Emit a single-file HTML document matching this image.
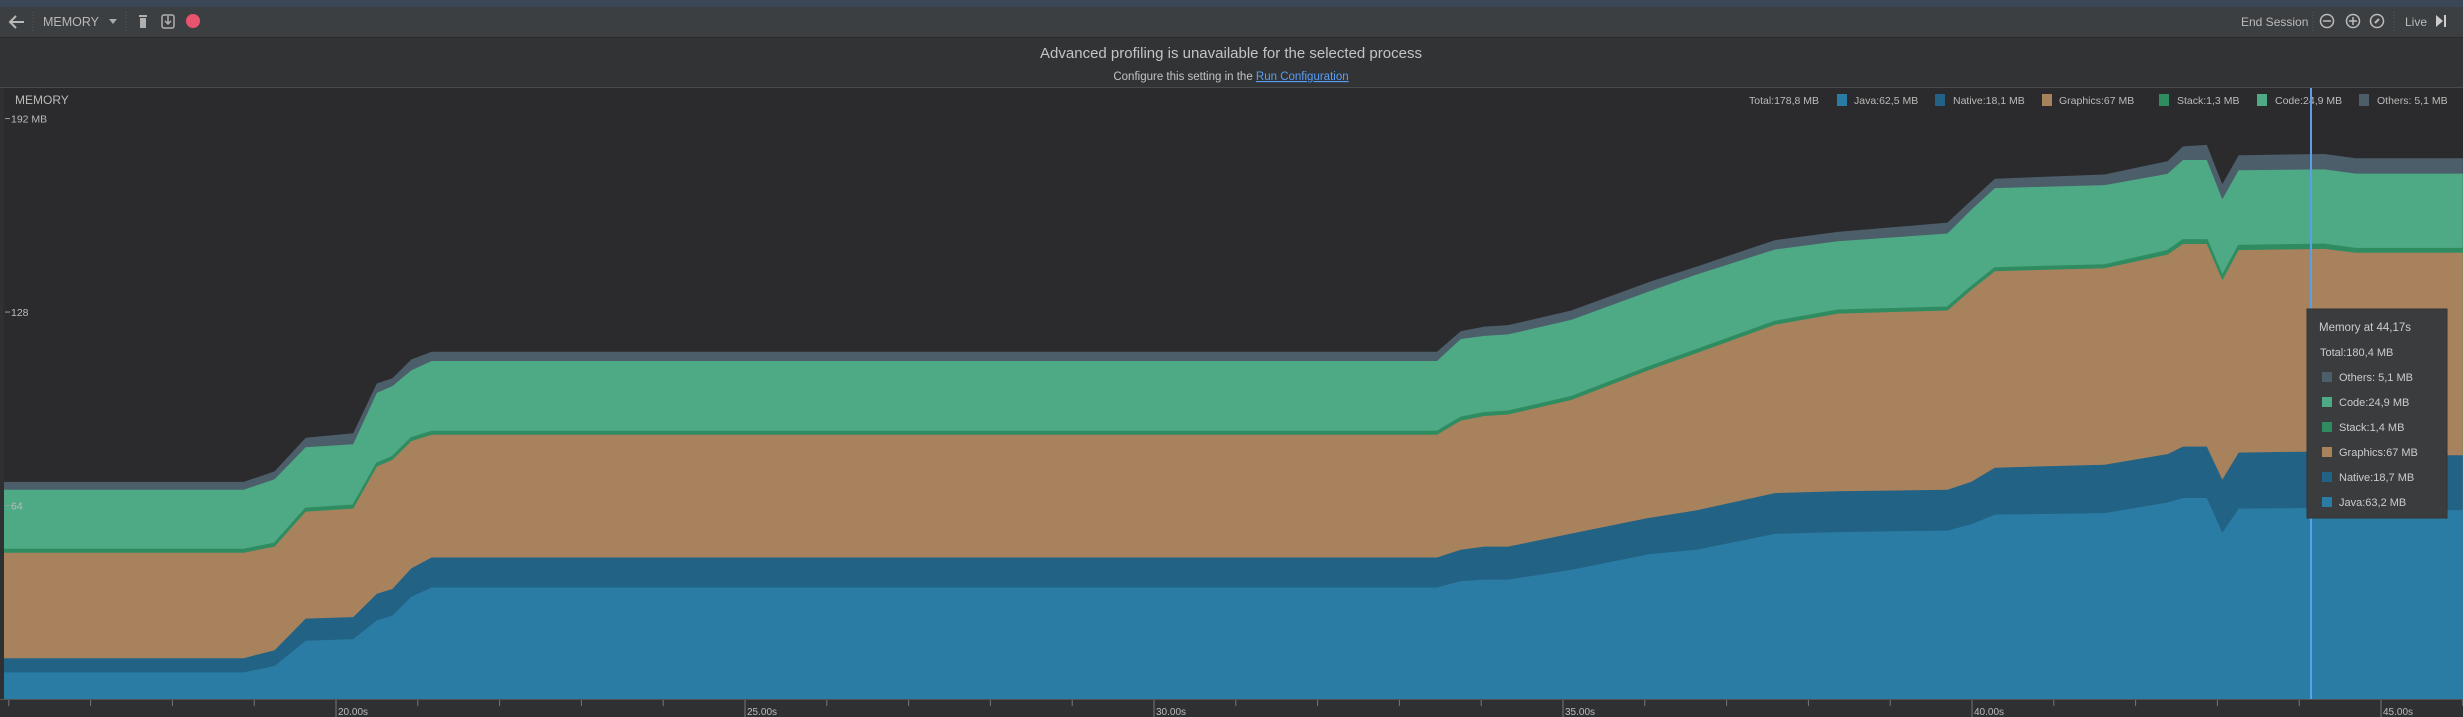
<!DOCTYPE html>
<html><head><meta charset="utf-8">
<style>
html,body{margin:0;padding:0;background:#2b2b2d;width:2463px;height:717px;overflow:hidden;font-family:"Liberation Sans",sans-serif;}
svg{display:block}
</style></head>
<body>
<svg id="root" width="2463" height="717" viewBox="0 0 2463 717" xmlns="http://www.w3.org/2000/svg">
  <rect x="0" y="0" width="2463" height="717" fill="#2b2b2d"/>
  <rect x="0" y="0" width="2463" height="7" fill="#3b4756"/>
  <rect x="0" y="7" width="2463" height="30" fill="#3c3f41"/>
  <line x1="0" y1="37.5" x2="2463" y2="37.5" stroke="#2a2a2a"/>
  <g><path d="M24 22 H10 M16 16 L10 22 L16 28" stroke="#b9b9b9" stroke-width="2" fill="none"/></g>
  <line x1="33" y1="12" x2="33" y2="33" stroke="#555" stroke-dasharray="1,2"/>
  <text x="43" y="26" fill="#b8b8b8" font-size="12.5">MEMORY</text>
  <path d="M109 19 L117 19 L113 24 Z" fill="#aaa"/>
  <line x1="126" y1="12" x2="126" y2="33" stroke="#555" stroke-dasharray="1,2"/>
  <g><rect x="139" y="15" width="8" height="2" fill="#b0b0b0"/><rect x="140" y="18" width="6" height="10" fill="#b0b0b0"/></g>
  <g><rect x="162" y="15" width="12" height="13" rx="2" fill="none" stroke="#b0b0b0" stroke-width="1.5"/><path d="M168 16 V24 M165 21 L168 24 L171 21" stroke="#b0b0b0" fill="none" stroke-width="1.5"/></g>
  <circle cx="193" cy="21" r="7" fill="#e8546e"/>
  <text x="2241" y="26" fill="#bbb" font-size="12">End Session</text>
  <line x1="2313" y1="12" x2="2313" y2="33" stroke="#555" stroke-dasharray="1,2"/>
  <g><circle cx="2327" cy="21" r="6.5" fill="none" stroke="#bbb" stroke-width="1.5"/><line x1="2323" y1="21" x2="2331" y2="21" stroke="#bbb" stroke-width="1.5"/></g>
  <g><circle cx="2353" cy="21" r="6.5" fill="none" stroke="#bbb" stroke-width="1.5"/><path d="M2349 21 H2357 M2353 17 V25" stroke="#bbb" stroke-width="1.5"/></g>
  <g><circle cx="2377" cy="21" r="6.5" fill="none" stroke="#bbb" stroke-width="1.5"/><line x1="2375" y1="23" x2="2379" y2="19" stroke="#bbb" stroke-width="2"/></g>
  <line x1="2394" y1="12" x2="2394" y2="33" stroke="#555" stroke-dasharray="1,2"/>
  <text x="2405" y="26" fill="#bbb" font-size="12">Live</text>
  <g><path d="M2436 15 L2443 21 L2436 27 Z" fill="#ccc"/><rect x="2444" y="15" width="2" height="12" fill="#ccc"/></g>
  <rect x="0" y="38" width="2463" height="49" fill="#313335"/>
  <text x="1231" y="58" text-anchor="middle" fill="#c4c4c4" font-size="15">Advanced profiling is unavailable for the selected process</text>
  <text x="1231" y="80" text-anchor="middle" fill="#c4c4c4" font-size="11.5">Configure this setting in the <tspan fill="#589df6" text-decoration="underline">Run Configuration</tspan></text>
  <line x1="0" y1="87.5" x2="2463" y2="87.5" stroke="#484a4c"/>
  <g id="chart"></g>
  <rect x="0" y="88" width="4" height="629" fill="#2f3032"/>
  <text x="15" y="104" fill="#bbb" font-size="12">MEMORY</text>
  <g id="yaxis"></g>
  <g id="xaxis"></g>
  <g id="legend"></g>
  <line x1="2311" y1="88" x2="2311" y2="699" stroke="#5a9fe8" stroke-width="2"/>
  <g id="tooltip"></g>
</svg>
<script>
const times    = [15.9, 18.87, 19.25, 19.63, 20.21, 20.5, 20.69, 20.92, 21.17, 33.46, 33.75, 34.04, 34.33, 35.1, 36.05, 36.63, 37.59, 38.36, 39.7, 39.99, 40.28, 41.62, 42.39, 42.58, 42.87, 43.06, 43.26, 44.31, 44.69, 46.0];
const java     = [8.8, 8.8, 10.9, 19.3, 19.8, 26.0, 27.6, 33.8, 36.9, 36.9, 39.0, 39.5, 39.5, 42.7, 47.9, 49.4, 54.6, 55.2, 55.7, 57.8, 61.0, 61.5, 65.0, 66.5, 66.5, 55.0, 63.0, 63.2, 62.5, 62.5];
const native   = [4.7, 4.7, 5.2, 7.3, 7.3, 8.8, 8.8, 9.4, 9.9, 9.9, 10.4, 10.9, 10.9, 12.0, 12.0, 13.0, 13.5, 13.5, 13.5, 14.0, 15.5, 16.0, 16.0, 17.0, 17.0, 17.5, 18.5, 18.7, 18.1, 18.1];
const graphics = [34.9, 34.9, 34.3, 35.4, 35.9, 42.1, 42.7, 42.1, 40.6, 40.6, 42.7, 43.2, 43.7, 44.2, 48.9, 52.0, 55.7, 58.8, 59.3, 63.5, 65.0, 65.0, 66.0, 67.0, 67.0, 66.0, 67.0, 67.0, 67.0, 67.0];
const stack    = [1.0, 1.0, 1.0, 1.0, 1.0, 1.0, 1.0, 1.0, 1.0, 1.0, 1.0, 1.0, 1.0, 1.0, 1.0, 1.0, 1.0, 1.0, 1.0, 1.0, 1.0, 1.0, 1.2, 1.3, 1.3, 1.3, 1.4, 1.4, 1.3, 1.3];
const code     = [19.8, 19.8, 21.3, 20.3, 20.3, 23.4, 23.4, 22.4, 23.4, 23.4, 26.0, 25.5, 25.5, 25.5, 25.0, 25.0, 23.9, 22.9, 24.5, 25.5, 26.5, 26.5, 25.5, 26.5, 26.5, 25.5, 25.0, 24.9, 24.9, 24.9];
const others   = [2.6, 2.6, 2.6, 3.1, 3.6, 3.1, 2.6, 3.6, 3.1, 3.1, 2.6, 3.1, 3.1, 3.1, 3.1, 2.6, 3.1, 3.1, 3.6, 3.1, 3.1, 3.5, 4.2, 4.5, 5.0, 5.0, 5.0, 5.1, 5.1, 5.1];
const yTicks = [64, 128, 192];
const yTickLabels = ["64", "128", "192 MB"];
const xTicks = [20, 25, 30, 35, 40, 45];
const xTickLabels = ["20.00s", "25.00s", "30.00s", "35.00s", "40.00s", "45.00s"];
const legendLabels = ["Total:178,8 MB", "Java:62,5 MB", "Native:18,1 MB", "Graphics:67 MB", "Stack:1,3 MB", "Code:24,9 MB", "Others: 5,1 MB"];
const tooltipLabels = ["Others: 5,1 MB", "Code:24,9 MB", "Stack:1,4 MB", "Graphics:67 MB", "Native:18,7 MB", "Java:63,2 MB"];

const NS = "http://www.w3.org/2000/svg";
function xS(t){ return 336 + (t - 20) * 81.8; }
function yS(v){ return 699 - v * 3.023; }
function mk(tag, attrs, parent){ const e = document.createElementNS(NS, tag); for (const k in attrs) e.setAttribute(k, attrs[k]); parent.appendChild(e); return e; }

const chart = document.getElementById('chart');
mk('rect', {x:0, y:88, width:2463, height:611, fill:'#2b2b2d'}, chart);
const series = [java, native, graphics, stack, code, others];
const colors = ['#2b7ca4', '#226285', '#a7825d', '#2f8c60', '#4ea985', '#4c5e6a'];
const names = ['java', 'native', 'graphics', 'stack', 'code', 'others'];
let base = times.map(() => 0);
const tops = [];
series.forEach((s) => { const top = base.map((b, i) => b + s[i]); tops.push({base: base.slice(), top: top}); base = top; });
for (let k = series.length - 1; k >= 0; k--) {
  const tp = tops[k];
  let d = 'M' + times.map((t, i) => xS(t).toFixed(1) + ',' + yS(tp.top[i]).toFixed(1)).join(' L');
  d += ' L' + xS(times[times.length-1]) + ',699 L' + xS(times[0]) + ',699 Z';
  const p = mk('path', {d: d, fill: colors[k]}, chart);
  
  
}
{
  const tp = tops[3];
  const d = 'M' + times.map((t, i) => xS(t).toFixed(1) + ',' + yS(tp.top[i]).toFixed(1)).join(' L');
  const p = mk('path', {d: d, fill: 'none', stroke: '#2f8c60', 'stroke-width': 2}, chart);
  
  
}

const yg = document.getElementById('yaxis');
yTicks.forEach((v, i) => {
  mk('line', {x1: 5, x2: 10, y1: yS(v), y2: yS(v), stroke: '#999'}, yg);
  const t = mk('text', {x: 11, y: yS(v) + 4, fill: '#bbb', 'font-size': 10.5}, yg);
  t.textContent = yTickLabels[i];
  
  
});

const xg = document.getElementById('xaxis');
mk('rect', {x: 0, y: 699, width: 2463, height: 18, fill: '#2f3032'}, xg);
mk('line', {x1: 0, x2: 2463, y1: 699.5, y2: 699.5, stroke: '#555'}, xg);
for (let s = 16; s <= 46; s++) {
  const x = xS(s);
  mk('line', {x1: x, x2: x, y1: 700, y2: 706, stroke: '#777'}, xg);
}
xTicks.forEach((v, i) => {
  mk('line', {x1: xS(v), x2: xS(v), y1: 700, y2: 717, stroke: '#777'}, xg);
  const t = mk('text', {x: xS(v) + 2, y: 715, fill: '#bbb', 'font-size': 10}, xg);
  t.textContent = xTickLabels[i];
  
  
});

const lg = document.getElementById('legend');
const legSw = [null, 1837, 1935, 2042, 2159, 2257, 2359];
const legTx = [1749, 1854, 1953, 2059, 2177, 2275, 2377];
const legCol = [null, colors[0], colors[1], colors[2], colors[3], colors[4], colors[5]];
legendLabels.forEach((l, i) => {
  if (legSw[i] !== null) mk('rect', {x: legSw[i], y: 94, width: 10, height: 12, fill: legCol[i]}, lg);
  const t = mk('text', {x: legTx[i], y: 104, fill: '#bbb', 'font-size': 10.5}, lg);
  t.textContent = l;
  
  
});

const tg = document.getElementById('tooltip');
mk('rect', {x: 2307, y: 309, width: 140, height: 209, fill: '#3b3c3e', stroke: '#333'}, tg);
const th = mk('text', {x: 2319, y: 331, fill: '#ccc', 'font-size': 11.5}, tg);
th.textContent = 'Memory at 44,17s';
const tt = mk('text', {x: 2320, y: 356, fill: '#ccc', 'font-size': 11}, tg);
tt.textContent = 'Total:180,4 MB';
const ttCols = [colors[5], colors[4], colors[3], colors[2], colors[1], colors[0]];
tooltipLabels.forEach((l, i) => {
  const y = 377 + i * 25;
  mk('rect', {x: 2322, y: y - 5, width: 10, height: 10, fill: ttCols[i]}, tg);
  const t = mk('text', {x: 2339, y: y + 4, fill: '#ccc', 'font-size': 11}, tg);
  t.textContent = l;
  
  
});
</script>
</body></html>
